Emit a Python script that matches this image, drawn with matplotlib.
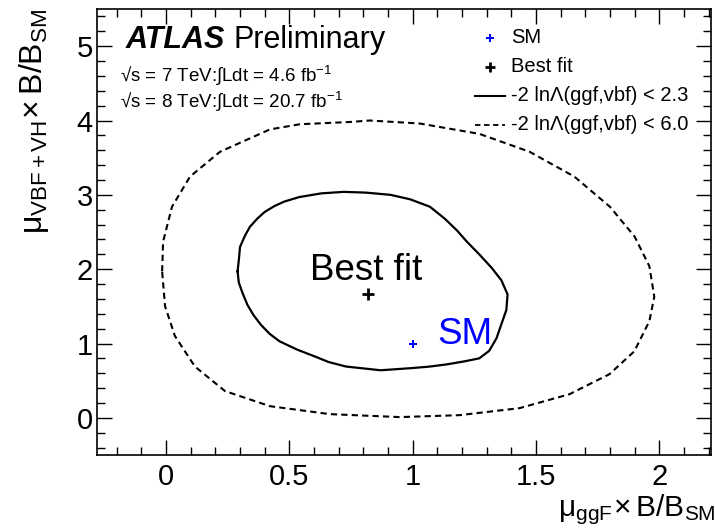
import matplotlib
matplotlib.use("Agg")
import matplotlib.pyplot as plt
from matplotlib.ticker import MultipleLocator, FixedLocator, FormatStrFormatter

plt.rcParams['font.family'] = ['Liberation Sans', 'DejaVu Sans']
plt.rcParams['mathtext.fontset'] = 'custom'
plt.rcParams['mathtext.rm'] = 'Liberation Sans'
plt.rcParams['mathtext.it'] = 'Liberation Sans:italic'

# best fit and SM points (mu_ggF, mu_VBF+VH)
best_fit = (0.82, 1.66)
sm_point = (1.0, 1.0)

# -2 ln L < 2.3 contour
inner_x = [0.29, 0.295, 0.30, 0.32, 0.34, 0.37, 0.40, 0.44, 0.48, 0.54, 0.63, 0.72, 0.81, 0.91,
           0.99, 1.07, 1.13, 1.18, 1.22, 1.27, 1.32, 1.36, 1.385, 1.38, 1.36, 1.34, 1.31, 1.27,
           1.21, 1.14, 1.07, 1.00, 0.87, 0.73, 0.66, 0.60, 0.53, 0.46, 0.42, 0.385, 0.355, 0.33,
           0.31, 0.295, 0.29]
inner_y = [1.97, 2.12, 2.30, 2.45, 2.57, 2.68, 2.77, 2.85, 2.91, 2.97, 3.02, 3.04, 3.03, 3.00,
           2.94, 2.84, 2.68, 2.52, 2.37, 2.20, 2.02, 1.85, 1.66, 1.45, 1.26, 1.07, 0.90, 0.80,
           0.76, 0.72, 0.69, 0.67, 0.64, 0.69, 0.75, 0.83, 0.92, 1.03, 1.13, 1.25, 1.38, 1.52,
           1.68, 1.82, 1.97]

# -2 ln L < 6.0 contour
outer_x = [-0.016, -0.012, 0.024, 0.097, 0.219, 0.421, 0.543, 0.745, 0.826, 1.028, 1.271, 1.474,
           1.656, 1.80, 1.90, 1.96, 1.98, 1.96, 1.899, 1.798, 1.636, 1.433, 1.19, 0.947, 0.664,
           0.421, 0.239, 0.117, 0.036, -0.004, -0.016]
outer_y = [1.97, 2.37, 2.84, 3.245, 3.58, 3.88, 3.95, 3.98, 4.00, 3.96, 3.82, 3.58,
           3.245, 2.84, 2.44, 2.04, 1.63, 1.30, 0.895, 0.587, 0.318, 0.13, 0.036, 0.01, 0.05,
           0.157, 0.36, 0.69, 1.10, 1.50, 1.97]

x_ticks = [0, 0.5, 1, 1.5, 2]
y_ticks = [0, 1, 2, 3, 4, 5]
legend_labels = ['SM', 'Best fit', '-2 ln\u039b(ggf,vbf) < 2.3', '-2 ln\u039b(ggf,vbf) < 6.0']

dash = (0, (3, 2))

fig = plt.figure(figsize=(7.15, 5.30), dpi=100)
ax = fig.add_axes([0.1357, 0.1415, 0.8587, 0.8415])

ax.plot(outer_x, outer_y, color='black', lw=1.5, ls=dash)
ax.plot(inner_x, inner_y, color='black', lw=1.6)
ax.plot(*best_fit, marker='+', color='black', ms=8, mew=2)
ax.plot(*sm_point, marker='P', color='blue', ms=6, mew=0)

ax.text(0.583, 1.86, 'Best fit', fontsize=26.5, color='black')
ax.text(1.10, 0.99, 'SM', fontsize=26.5, color='blue')

ax.set_xlim(-0.28, 2.21)
ax.set_ylim(-0.5, 5.5)
ax.xaxis.set_major_locator(FixedLocator(x_ticks))
ax.xaxis.set_major_formatter(FormatStrFormatter('%g'))
ax.xaxis.set_minor_locator(MultipleLocator(0.1))
ax.yaxis.set_major_locator(FixedLocator(y_ticks))
ax.yaxis.set_minor_locator(MultipleLocator(0.2))
ax.tick_params(which='both', direction='in', top=True, right=True, width=1.0, labelsize=21)
ax.tick_params(which='major', length=11)
ax.tick_params(which='minor', length=6)
ax.tick_params(axis='x', pad=6)
ax.tick_params(axis='y', pad=3)
for s in ax.spines.values():
    s.set_linewidth(1.2)

ax.set_xlabel(r'$\mathregular{\mu_{ggF}\!\times B/B_{SM}}$', fontsize=21.5, loc='right')
ax.set_ylabel(r'$\mathregular{\mu_{VBF+VH}\!\times B/B_{SM}}$', fontsize=23, loc='top')
ax.xaxis.set_label_coords(1.007, -0.083)
ax.yaxis.set_label_coords(-0.075, 1.0)

# ATLAS label and luminosity lines
ax.text(0.046, 0.913, 'ATLAS', transform=ax.transAxes, fontsize=22, fontweight='bold',
        fontstyle='italic', va='baseline')
ax.text(0.222, 0.913, 'Preliminary', transform=ax.transAxes, fontsize=22, va='baseline')
ax.text(0.038, 0.836, '\u221as = 7 TeV:\u222bLdt = 4.6 fb$^{-1}$', transform=ax.transAxes,
        fontsize=13.5, va='baseline')
ax.text(0.038, 0.778, '\u221as = 8 TeV:\u222bLdt = 20.7 fb$^{-1}$', transform=ax.transAxes,
        fontsize=13.5, va='baseline')

# legend rows
rows_y = [0.935, 0.870, 0.805, 0.740]
ax.plot(0.640, rows_y[0], transform=ax.transAxes, marker='P', color='blue', ms=6, mew=0)
ax.plot(0.640, rows_y[1], transform=ax.transAxes, marker='+', color='black', ms=7, mew=2)
ax.plot([0.616, 0.664], [rows_y[2]] * 2, transform=ax.transAxes, color='black', lw=1.5)
ax.plot([0.616, 0.664], [rows_y[3]] * 2, transform=ax.transAxes, color='black', lw=1.3, ls=dash)
for yy, lab in zip(rows_y, legend_labels):
    ax.text(0.674, yy, lab, transform=ax.transAxes, fontsize=14.5, va='center')

fig.savefig('out.png', dpi=100)
